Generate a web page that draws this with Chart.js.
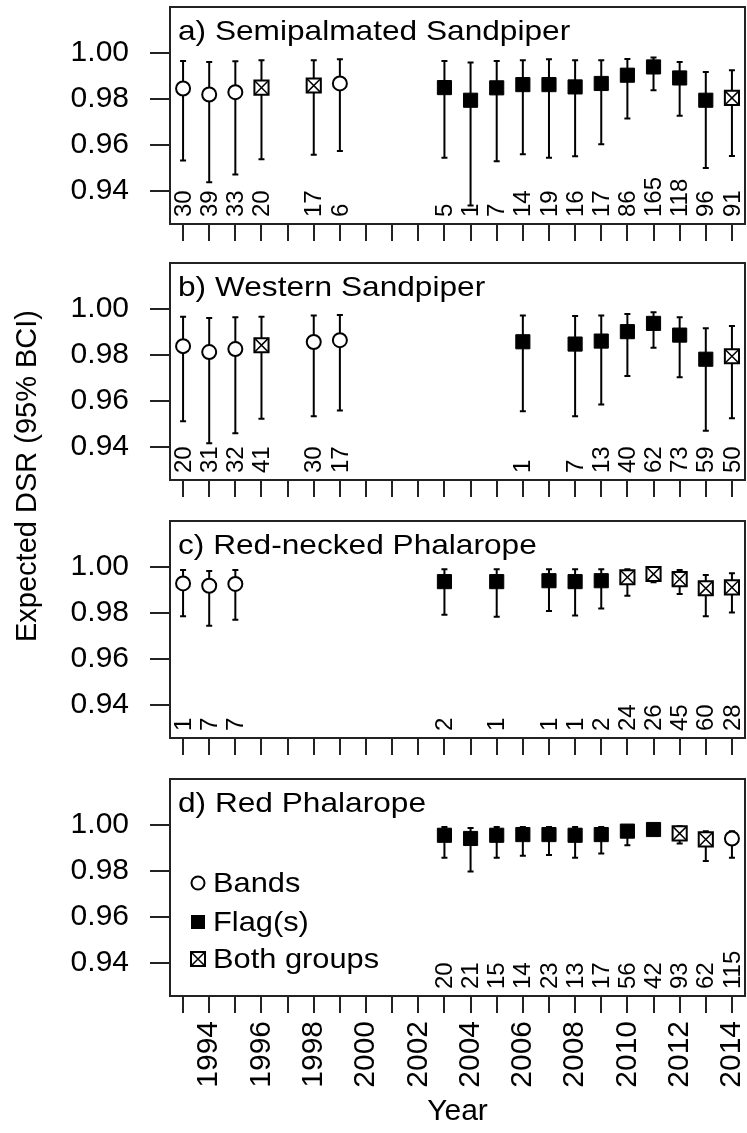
<!DOCTYPE html>
<html>
<head>
<meta charset="utf-8">
<script src="https://cdn.jsdelivr.net/npm/chart.js@4.4.1/dist/chart.umd.min.js"></script>
<style>
  html, body { margin: 0; padding: 0; background: #fff; }
  #wrap { position: relative; width: 747px; height: 1133px; }
  #wrap canvas { position: absolute; left: 0; top: 0; }
</style>
</head>
<body>
<div id="wrap">
  <canvas id="pa" width="747" height="1133"></canvas>
  <canvas id="pb" width="747" height="1133"></canvas>
  <canvas id="pc" width="747" height="1133"></canvas>
  <canvas id="pd" width="747" height="1133"></canvas>
</div>
<script>
const FONT = "'Liberation Sans', Arial, sans-serif";

// axis ticks
const tickYears = [1993, 1994, 1995, 1996, 1997, 1998, 1999, 2000, 2001, 2002, 2003,
  2004, 2005, 2006, 2007, 2008, 2009, 2010, 2011, 2012, 2013, 2014];
const yTicks = [0.94, 0.96, 0.98, 1.00];
const legendLabels = ["Bands", "Flag(s)", "Both groups"];

// a) Semipalmated Sandpiper  (B = bands, F = flag(s), G = both groups)
const aYears = [1993, 1994, 1995, 1996, 1998, 1999, 2003, 2004, 2005, 2006, 2007, 2008, 2009, 2010, 2011, 2012, 2013, 2014];
const aType = ["B", "B", "B", "G", "G", "B", "F", "F", "F", "F", "F", "F", "F", "F", "F", "F", "F", "G"];
const aDSR = [0.9845, 0.9819, 0.9829, 0.9849, 0.9858, 0.9867, 0.9849, 0.9794, 0.9848, 0.9862, 0.9862, 0.9852, 0.9867, 0.9903, 0.9939, 0.9891, 0.9794, 0.9804];
const aLow = [0.9532, 0.9437, 0.9471, 0.9537, 0.9557, 0.9573, 0.9544, 0.9336, 0.9528, 0.9559, 0.9544, 0.9550, 0.9602, 0.9714, 0.9837, 0.9726, 0.9499, 0.9551];
const aHigh = [0.9965, 0.9961, 0.9964, 0.9968, 0.9968, 0.9973, 0.9965, 0.9958, 0.9965, 0.9968, 0.9973, 0.9968, 0.9968, 0.9974, 0.9980, 0.9961, 0.9917, 0.9925];
const aN = [30, 39, 33, 20, 17, 6, 5, 1, 7, 14, 19, 16, 17, 86, 165, 118, 96, 91];

// b) Western Sandpiper
const bYears = [1993, 1994, 1995, 1996, 1998, 1999, 2006, 2008, 2009, 2010, 2011, 2012, 2013, 2014];
const bType = ["B", "B", "B", "G", "B", "B", "F", "F", "F", "F", "F", "F", "F", "G"];
const bDSR = [0.9838, 0.9812, 0.9825, 0.9842, 0.9856, 0.9864, 0.9857, 0.9847, 0.9860, 0.9901, 0.9937, 0.9886, 0.9781, 0.9794];
const bLow = [0.9511, 0.9415, 0.9459, 0.9522, 0.9533, 0.9558, 0.9554, 0.9533, 0.9584, 0.9708, 0.9831, 0.9702, 0.9470, 0.9524];
const bHigh = [0.9966, 0.9961, 0.9964, 0.9966, 0.9971, 0.9974, 0.9971, 0.9969, 0.9971, 0.9978, 0.9985, 0.9964, 0.9916, 0.9926];
const bN = [20, 31, 32, 41, 30, 17, 1, 7, 13, 40, 62, 73, 59, 50];

// c) Red-necked Phalarope
const cYears = [1993, 1994, 1995, 2003, 2005, 2007, 2008, 2009, 2010, 2011, 2012, 2013, 2014];
const cType = ["B", "B", "B", "F", "F", "F", "F", "F", "G", "G", "G", "G", "G"];
const cDSR = [0.9928, 0.9918, 0.9926, 0.9936, 0.9936, 0.9940, 0.9936, 0.9940, 0.9955, 0.9969, 0.9947, 0.9907, 0.9911];
const cLow = [0.9785, 0.9744, 0.9770, 0.9792, 0.9783, 0.9808, 0.9789, 0.9819, 0.9875, 0.9933, 0.9882, 0.9785, 0.9802];
const cHigh = [0.9987, 0.9982, 0.9987, 0.9990, 0.9990, 0.9990, 0.9990, 0.9990, 0.9990, 0.9998, 0.9987, 0.9965, 0.9972];
const cN = [1, 7, 7, 2, 1, 1, 1, 2, 24, 26, 45, 60, 28];

// d) Red Phalarope
const dYears = [2003, 2004, 2005, 2006, 2007, 2008, 2009, 2010, 2011, 2012, 2013, 2014];
const dType = ["F", "F", "F", "F", "F", "F", "F", "F", "F", "G", "G", "B"];
const dDSR = [0.9955, 0.9941, 0.9955, 0.9958, 0.9958, 0.9955, 0.9958, 0.9973, 0.9980, 0.9963, 0.9937, 0.9941];
const dLow = [0.9857, 0.9797, 0.9857, 0.9866, 0.9869, 0.9857, 0.9876, 0.9912, 0.9962, 0.9919, 0.9843, 0.9857];
const dHigh = [0.9991, 0.9987, 0.9991, 0.9991, 0.9991, 0.9991, 0.9991, 0.9998, 0.9993, 0.9994, 0.9973, 0.9973];
const dN = [20, 21, 15, 14, 23, 13, 17, 56, 42, 93, 62, 115];

// panel frames on the page
const panelTop = [7, 263, 521, 779];
const panelH = 217;
const PAGE_H = 1133;

// text a bit wider than tall, like the original
function wideText(ctx, text, x, y, sx) {
  ctx.save();
  ctx.translate(x, y);
  ctx.scale(sx, 1);
  ctx.fillText(text, 0, 0);
  ctx.restore();
}

function makePanel(canvasId, idx, title, years, type, dsr, low, high, n) {
  const isLast = idx === 3;
  const bottom = panelTop[idx] + panelH;
  const pick = (code) => years
    .map((yr, i) => (type[i] === code ? { x: yr, y: dsr[i] } : null))
    .filter(Boolean);

  // error bars + count labels, drawn below the symbols
  const bars = {
    id: "bars" + idx,
    beforeDatasetsDraw(chart) {
      const { ctx, chartArea, scales: { x, y } } = chart;
      ctx.save();
      ctx.strokeStyle = "#000";
      ctx.lineWidth = 2;
      years.forEach((yr, i) => {
        const px = x.getPixelForValue(yr);
        const lo = y.getPixelForValue(low[i]);
        const hi = y.getPixelForValue(high[i]);
        ctx.beginPath();
        ctx.moveTo(px, lo); ctx.lineTo(px, hi);
        ctx.moveTo(px - 3, lo); ctx.lineTo(px + 3, lo);
        ctx.moveTo(px - 3, hi); ctx.lineTo(px + 3, hi);
        ctx.stroke();
      });
      // sample sizes
      ctx.fillStyle = "#000";
      ctx.font = "24px " + FONT;
      ctx.textAlign = "left";
      ctx.textBaseline = "middle";
      years.forEach((yr, i) => {
        ctx.save();
        ctx.translate(x.getPixelForValue(yr) + 1, chartArea.bottom - 7);
        ctx.rotate(-Math.PI / 2);
        ctx.fillText(String(n[i]), 0, 0);
        ctx.restore();
      });
      ctx.restore();
    },
    afterDraw(chart) {
      const { ctx, chartArea } = chart;
      ctx.save();
      // frame
      ctx.strokeStyle = "#222";
      ctx.lineWidth = 2;
      ctx.strokeRect(chartArea.left, chartArea.top, chartArea.right - chartArea.left, chartArea.bottom - chartArea.top);
      // panel title
      ctx.fillStyle = "#000";
      ctx.font = "28px " + FONT;
      ctx.textAlign = "left";
      ctx.textBaseline = "alphabetic";
      wideText(ctx, title, chartArea.left + 8, chartArea.top + 33, 1.13);
      if (isLast) {
        // legend
        const rows = [104, 143, 180];
        const mx = chartArea.left + 28;
        rows.forEach((dy, k) => {
          const my = chartArea.top + dy;
          ctx.lineWidth = 2;
          ctx.strokeStyle = "#000";
          if (k === 0) {
            ctx.beginPath(); ctx.arc(mx, my, 6.5, 0, Math.PI * 2);
            ctx.fillStyle = "#fff"; ctx.fill(); ctx.stroke();
          } else if (k === 1) {
            ctx.fillStyle = "#000"; ctx.fillRect(mx - 7, my - 7, 14, 14);
          } else {
            ctx.strokeRect(mx - 7, my - 7, 14, 14);
            ctx.lineWidth = 1.5;
            ctx.beginPath();
            ctx.moveTo(mx - 7, my - 7); ctx.lineTo(mx + 7, my + 7);
            ctx.moveTo(mx + 7, my - 7); ctx.lineTo(mx - 7, my + 7);
            ctx.stroke();
          }
          ctx.fillStyle = "#000";
          ctx.font = "28px " + FONT;
          ctx.textBaseline = "middle";
          wideText(ctx, legendLabels[k], chartArea.left + 43, my + 1, 1.1);
        });
        // shared y axis title
        ctx.save();
        ctx.translate(28, 476);
        ctx.rotate(-Math.PI / 2);
        ctx.textAlign = "center";
        ctx.textBaseline = "middle";
        ctx.font = "29px " + FONT;
        ctx.fillText("Expected DSR (95% BCI)", 0, 0);
        ctx.restore();
      }
      ctx.restore();
    }
  };

  const xH = isLast ? PAGE_H - bottom : 20;

  return new Chart(document.getElementById(canvasId), {
    type: "scatter",
    plugins: [bars],
    data: {
      datasets: [
        { label: "Bands", data: pick("B"), pointStyle: "circle", pointRadius: 7,
          backgroundColor: "#fff", borderColor: "#000", borderWidth: 2, order: 1 },
        { label: "Flag(s)", data: pick("F"), pointStyle: "rect", pointRadius: 10,
          backgroundColor: "#000", borderColor: "#000", borderWidth: 1, order: 1 },
        { label: "Both groups x", data: pick("G"), pointStyle: "crossRot", pointRadius: 10,
          backgroundColor: "#000", borderColor: "#000", borderWidth: 1.5, order: 0 },
        { label: "Both groups", data: pick("G"), pointStyle: "rect", pointRadius: 10,
          backgroundColor: "#fff", borderColor: "#000", borderWidth: 2, order: 1 }
      ]
    },
    options: {
      responsive: false,
      animation: false,
      events: [],
      layout: {
        autoPadding: false,
        padding: { top: panelTop[idx], left: 0, right: 2, bottom: PAGE_H - bottom - xH }
      },
      plugins: { legend: { display: false }, tooltip: { enabled: false } },
      scales: {
        x: {
          type: "linear",
          min: 1992.5,
          max: 2014.5,
          afterBuildTicks: (s) => { s.ticks = tickYears.map((v) => ({ value: v })); },
          afterFit: (s) => { s.height = xH; s.paddingLeft = 0; s.paddingRight = 0; },
          grid: { drawOnChartArea: false, drawTicks: true, tickLength: 17, lineWidth: 2, color: "#222" },
          border: { display: true, width: 2, color: "#222" },
          ticks: {
            display: isLast,
            autoSkip: false,
            maxRotation: 90,
            minRotation: 90,
            padding: 8,
            color: "#000",
            font: { family: FONT, size: 30 },
            callback: (v) => (v % 2 === 0 ? String(v) : "")
          },
          title: {
            display: isLast,
            text: "Year",
            color: "#000",
            font: { family: FONT, size: 30 },
            padding: { top: 0, bottom: 3 }
          }
        },
        y: {
          type: "linear",
          min: 0.9255,
          max: 1.02,
          afterBuildTicks: (s) => { s.ticks = yTicks.map((v) => ({ value: v })); },
          afterFit: (s) => { s.width = 170; s.paddingTop = 0; s.paddingBottom = 0; },
          grid: { drawOnChartArea: false, drawTicks: true, tickLength: 20, lineWidth: 2, color: "#222" },
          border: { display: true, width: 2, color: "#222" },
          ticks: {
            padding: 21,
            color: "#000",
            font: { family: FONT, size: 30 },
            callback: (v) => Number(v).toFixed(2)
          }
        }
      }
    }
  });
}

makePanel("pa", 0, "a) Semipalmated Sandpiper", aYears, aType, aDSR, aLow, aHigh, aN);
makePanel("pb", 1, "b) Western Sandpiper", bYears, bType, bDSR, bLow, bHigh, bN);
makePanel("pc", 2, "c) Red-necked Phalarope", cYears, cType, cDSR, cLow, cHigh, cN);
makePanel("pd", 3, "d) Red Phalarope", dYears, dType, dDSR, dLow, dHigh, dN);
</script>
</body>
</html>
